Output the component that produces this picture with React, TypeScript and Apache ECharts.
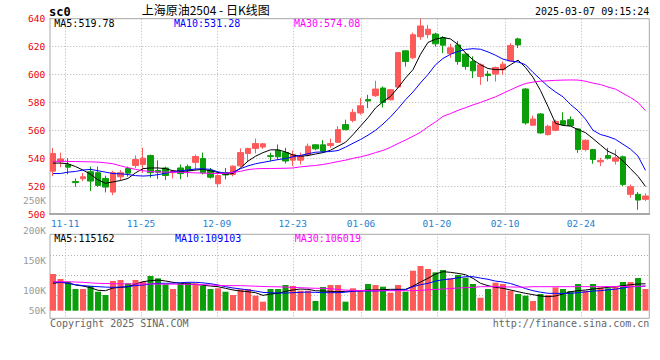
import React, { useEffect, useRef } from "react";
import * as echarts from "echarts";

// ---------- data ----------
const dates = [
  "11-07","11-08","11-11","11-12","11-13","11-14","11-15","11-18","11-19","11-20","11-21","11-22","11-25","11-26","11-27","11-28","11-29",
  "12-02","12-03","12-04","12-05","12-06","12-09","12-10","12-11","12-12","12-13","12-16","12-17","12-18","12-19","12-20","12-23","12-24","12-25","12-26","12-27","12-30","12-31",
  "01-02","01-03","01-06","01-07","01-08","01-09","01-10","01-13","01-14","01-15","01-16","01-17","01-20","01-21","01-22","01-23","01-24","01-27",
  "02-05","02-06","02-07","02-10","02-11","02-12","02-13","02-14","02-17","02-18","02-19","02-20","02-21","02-24","02-25","02-26","02-27","02-28",
  "03-03","03-04","03-05","03-06","03-07"
];
const dateTicks = ["11-11","11-25","12-09","12-23","01-06","01-20","02-10","02-24"];

const opens = [530.7,537.5,535.3,523.3,525.3,530.3,529.6,525.5,515.7,526.7,532.6,534.8,535.5,541.9,531.2,533,529.6,533,534,537,539.8,531.2,521.7,529.6,528.4,534.5,543.4,547,548,541.8,545.7,544,538.6,538.6,542.6,549.6,549.6,549.1,551.4,564.1,567.1,572.4,582,584.8,590.3,581.9,591,617,612,627,628.6,629,626.4,615.1,621.2,614.6,609.3,598.6,600.3,600.3,603.4,609.8,625.5,589.6,563.6,571.7,556.9,560,566.9,567.6,561,546.2,546.2,537.4,541.9,537.9,541,514.1,514.1,510.5];
const closes = [543.4,539.5,533.6,522.5,526.7,523.6,520.5,519.3,529.6,529.6,529.3,539.1,540,529.6,530,527.6,530.8,529,531.2,541.2,529.6,526.4,527.6,528,534.3,544,547,550.5,550.3,541.3,541,538,542.6,541.9,548.6,546.7,545,550.5,560.5,560.5,572.9,577.6,581,589.6,580,589.1,615.7,609.3,628.5,634.8,632.5,622,621,619.1,609.3,605.7,602.6,606.9,599.3,605,607.4,620.7,621.2,565.3,568.1,558.1,562.9,566.4,564.1,563.4,546.2,552.9,539.1,538.4,540,540.3,521.2,519.6,510,512.9];
const lows = [527.1,533.5,528.4,519.5,523.5,516.5,519.5,515.5,513.5,524,526.7,533,529.5,526,525,524.3,525.5,525,526.5,531.2,528.4,525.3,519,524.8,527,533.5,537.4,543.5,546.7,537.9,539,536.2,534.3,535.5,541.4,545.7,544.3,547.4,551,560,565.7,571.2,576,584,576.4,581.4,590.3,605.7,611,624.8,626,620,615.3,612,607,603.4,597.4,592.6,595,595,599.8,609.3,619,564,563.4,557.6,556.2,559.3,563.4,563,543.9,545,536,534.3,539.1,535.5,520,511.7,503,509.3];
const highs = [547.4,544,540,525.5,529.5,534,534,527.5,531,531.5,534,542,547.5,542.6,538.5,534,531.5,535.5,535.5,542.6,544,533,528.4,533,534.8,547,547.5,554,551,543.9,549.8,547.4,545.5,544,550.5,549.8,553,554,563,567.6,575.3,583.1,585.5,595.5,591.4,589.6,615.9,617.3,630,640,635.5,630,627.5,622,624,615.7,613,608,602.6,605.7,609.3,622.4,626.4,590.3,570.5,572.4,564,567.6,573,570,561.7,553.4,546.7,540.3,547.4,546.2,541.9,521.2,515.7,514.8];

const priceMA5 = [536.5,536.5,536,534,531.5,528.5,524.5,522,523,524,525.5,529.5,532.5,533,533,532.5,531,530.5,530.8,531.5,532,531,529.8,528.5,529,533,537.9,541.4,544,546,546,544.5,542.3,541.4,541.9,543,544,545.7,548.6,551.4,556.9,563,569,576,580.5,584.3,590.5,597.5,603.5,614.5,623,625.3,626.5,625.5,621.5,615.5,610.5,607,604.3,603.5,603.5,607,610.3,605,598,588.5,577,565,563.5,563,560.5,558.3,554,549.5,545,542.5,538,532.5,527,519.78];
const priceMA10 = [529,529,530,530.5,531.5,532,531,530,529,528.8,528.3,527.5,527.2,527.5,528.2,529.2,530.3,531,531.5,532.3,532.4,532,530.2,529.3,530,532.5,534.5,536,537,538,539,539.8,541,542,543.2,544.3,544.5,544.8,545.5,547.9,550.7,553.4,556.5,560,564.5,569.6,575.5,581.9,587.5,594,600,607,611.5,614.5,616.5,618,618.5,618.1,616.2,613.8,611,609.6,609,607,601.5,596.5,591.5,587.5,584,578.5,574,568,560,557,555.5,553.5,550,546.5,541.5,531.28];
const priceMA30 = [537.8,537.8,537.7,537.6,537.5,537.4,537.2,536.7,536,534.5,533.2,532,531,530.4,530.2,530,530,529.9,529.7,529.5,529.3,529.1,529,529.2,529.8,530.6,531.8,532.4,532.6,532.6,532.7,532.8,533,533.8,534.3,534.8,535.5,536.5,537.6,538.6,539.9,541,542.3,544,545.6,547.8,550.5,553,555.7,558.6,562.5,566,570,572,574.3,576.2,578.2,580,582,584,586.5,589,591.5,593.5,594.6,595.2,595.5,595.8,596,596.1,596,595.2,593.8,592.8,591,589.5,586.5,583.5,580,574.08];

// volume, in thousands of lots
const volumes = [127.8,119.5,115,102.8,102.8,107.8,98.3,92.8,116.2,117.8,112.3,117.8,115,124.5,120.6,110.6,102.8,112.3,113.4,112.3,107.8,102.8,104,98.3,92.8,102.3,102.8,91.7,81.7,102.8,102.8,109.5,107.8,100,100,82.8,106.2,109.5,109.5,81.7,104,101.2,111.2,109.5,106.7,96.7,109.5,98.3,133.3,141.2,136.2,130.6,134.5,120.6,126.2,121.7,111.2,88.3,102.8,113.4,111.2,100,94.5,91.7,82.8,94.5,92.8,105.6,102.8,99.5,111.2,100,111.2,105.6,104,106.7,114.5,114.5,121.2,102.8];
const volMA5 = [112.3,114,112.8,109.5,107.8,105,100.7,100,104.5,105.6,106.7,111,115,116.7,117.8,116.2,114,112.3,111.2,110.6,109,107.8,106.7,104,101.2,99.5,98.3,96.7,92.2,94.5,95.6,98.9,101.2,102.8,102.3,100,99.5,98.9,98.3,98.9,100,100,101.2,101.2,101.7,102.3,102.3,102.3,107.8,114.5,120.6,127.8,131.7,130.6,128.9,126.7,120.6,112.3,108.4,105.6,104,101.2,98.3,95.6,93.4,91.2,90,91.2,94.5,98.3,100,101.2,102.8,104,105.6,106.7,108.4,110,111.2,111.5];
const volMA10 = [114.5,114,112.5,110,108.5,107.5,106.7,106,105.6,106,106.7,108.5,109.5,111,112.3,112.3,112.5,113.4,114,114,113,111.7,109.5,106.7,104.5,103,101.2,99.5,97.2,96.7,96.1,96.1,96.7,97.2,97.8,97.2,96.7,96.7,96.7,97.5,99,99.5,99.5,99.5,100,100.5,101,101.5,106.7,110,112.3,116,118.3,119.5,121.5,123.4,123.4,121,119,116,114.5,112,108,103.5,100,97.5,95.6,95.6,95.6,95.6,96.7,98,99.5,100,101.5,102.5,104.5,106.7,107,107.8];
const volMA30 = [115,115,114.8,114.5,114,113,112.3,112,111.7,111.5,111.2,111.2,111.2,111.2,111,111,111,110.8,110.8,110.5,110,109.5,108.9,108.5,108.4,108.4,108,107.5,107,106.7,106.5,106,105.5,105,104.5,104,104,103.5,102,101,100.5,100.3,100,100,100,100,100,100,100,100.5,101.5,102,102.8,103.5,104.5,105,105.5,106.7,106.7,106.7,106.5,106.2,106,106,106.7,106.7,106.7,106.7,106.7,106.7,106.7,106.7,106.7,106.8,106.8,107,107,107.2,107.3,107.5];

const volTickLabels = ["250K", "200K", "150K", "100K", "50K"];
const priceMaLabels = ["MA5:519.78", "MA10:531.28", "MA30:574.08"];
const volMaLabels = ["MA5:115162", "MA10:109103", "MA30:106019"];
const titleCode = "sc0";
const titleText = "上海原油2504 - 日K线图";
const timeStamp = "2025-03-07 09:15:24";
const copyright = "Copyright 2025 SINA.COM";
const siteUrl = "http://finance.sina.com.cn";

// ---------- styles ----------
const RED = "#ff5a5a";
const GREEN = "#0a9f0a";
const MA_COLORS = ["#000000", "#0000ff", "#ff00ff"];
const GRID_LINE = { color: "#b4b4b4", width: 1, type: [1, 2] as any };
const MONO = '"DejaVu Sans Mono", "Liberation Mono", monospace';
const BORDER = "#a8a8a8";

const volRowIdx = Array.from({ length: 85 }, (_, k) => String(k));
const volRowLines = new Set([21, 41, 61]);

function buildOption() {
  const candleData = dates.map((_, i) => [opens[i], closes[i], lows[i], highs[i]]);
  const volData = volumes.map((v, i) => ({
    value: v,
    itemStyle: { color: closes[i] > opens[i] ? RED : GREEN },
  }));
  const line = (name: string, data: number[], color: string, ax: number) => ({
    type: "line",
    name,
    data,
    xAxisIndex: ax,
    yAxisIndex: ax,
    symbol: "none",
    showSymbol: false,
    silent: true,
    z: 5,
    lineStyle: { color, width: 1 },
    itemStyle: { color },
  });
  const txt = (text: string, x: number, y: number, fill: string, font: string, align = "left") => ({
    type: "text",
    x,
    y,
    silent: true,
    z: 100,
    style: {
      text,
      fill,
      font,
      align,
      textAlign: align,
      verticalAlign: "middle",
      textVerticalAlign: "middle",
    },
  });
  const tickInterval = (_: number, v: string) => dateTicks.includes(v);
  const volLabelY = [200, 230.7, 260.7, 290.3, 310.3];

  return {
    animation: false,
    backgroundColor: "#ffffff",
    grid: [
      { left: 49.25, top: 18.7, width: 600, height: 195.3 },
      { left: 50, top: 18.7, width: 599.3, height: 195.3, show: true, borderColor: BORDER, borderWidth: 1 },
      { left: 49.25, top: 230.7, width: 600, height: 80 },
      { left: 50, top: 234.3, width: 599.3, height: 84, show: true, borderColor: BORDER, borderWidth: 1 },
    ],
    xAxis: [
      { type: "category", gridIndex: 0, data: dates, boundaryGap: true, show: false },
      {
        type: "category",
        gridIndex: 1,
        data: dates,
        boundaryGap: false,
        axisLine: { show: true, lineStyle: { color: BORDER, width: 2 } },
        axisTick: { show: false },
        axisLabel: {
          interval: tickInterval,
          color: "#1e82d2",
          fontSize: 9.5,
          fontFamily: MONO,
          margin: 4,
        },
        splitLine: { show: true, interval: tickInterval, lineStyle: GRID_LINE },
      },
      { type: "category", gridIndex: 2, data: dates, boundaryGap: true, show: false },
      {
        type: "category",
        gridIndex: 3,
        data: dates,
        boundaryGap: false,
        axisLine: { show: false },
        axisTick: { show: false },
        axisLabel: { show: false },
        splitLine: { show: true, interval: tickInterval, lineStyle: GRID_LINE },
      },
    ],
    yAxis: [
      {
        type: "value",
        gridIndex: 0,
        min: 500,
        max: 640,
        interval: 20,
        axisLine: { show: false },
        axisTick: { show: false },
        axisLabel: {
          color: "#ee0000",
          fontSize: 9.5,
          fontFamily: MONO,
          margin: 4,
          verticalAlign: "middle",
          padding: [0, 0, 5, 0],
        },
        splitLine: { show: true, lineStyle: GRID_LINE },
      },
      { type: "value", gridIndex: 1, min: 0, max: 1, show: false },
      { type: "value", gridIndex: 2, min: 200 - 80 / 0.6, max: 200, show: false },
      {
        type: "category",
        gridIndex: 3,
        data: volRowIdx,
        boundaryGap: false,
        inverse: true,
        axisLine: { show: false },
        axisTick: { show: false },
        axisLabel: { show: false },
        splitLine: {
          show: true,
          interval: (idx: number) => volRowLines.has(idx),
          lineStyle: GRID_LINE,
        },
      },
    ],
    series: [
      {
        type: "candlestick",
        name: "K",
        xAxisIndex: 0,
        yAxisIndex: 0,
        data: candleData,
        barWidth: 6,
        clip: true,
        silent: true,
        itemStyle: {
          color: RED,
          color0: GREEN,
          borderColor: RED,
          borderColor0: GREEN,
          borderWidth: 1,
        },
      },
      line("MA5", priceMA5, MA_COLORS[0], 0),
      line("MA10", priceMA10, MA_COLORS[1], 0),
      line("MA30", priceMA30, MA_COLORS[2], 0),
      {
        type: "bar",
        name: "VOL",
        xAxisIndex: 2,
        yAxisIndex: 2,
        data: volData,
        barWidth: 6,
        silent: true,
      },
      line("VMA5", volMA5, MA_COLORS[0], 2),
      line("VMA10", volMA10, MA_COLORS[1], 2),
      line("VMA30", volMA30, MA_COLORS[2], 2),
    ],
    graphic: [
      txt(titleCode, 49, 11.5, "#000", `bold 12px ${MONO}`),
      txt(titleText, 141.7, 9.5, "#000", '12px "Noto Sans CJK SC", sans-serif'),
      txt(timeStamp, 649.3, 11.7, "#000", `10px ${MONO}`, "right"),
      txt(priceMaLabels[0], 54.3, 23.7, MA_COLORS[0], `10px ${MONO}`),
      txt(priceMaLabels[1], 174, 23.7, MA_COLORS[1], `10px ${MONO}`),
      txt(priceMaLabels[2], 294, 23.7, MA_COLORS[2], `10px ${MONO}`),
      txt(volMaLabels[0], 54.3, 238.5, MA_COLORS[0], `10px ${MONO}`),
      txt(volMaLabels[1], 175, 238.5, MA_COLORS[1], `10px ${MONO}`),
      txt(volMaLabels[2], 294.7, 238.5, MA_COLORS[2], `10px ${MONO}`),
      ...volTickLabels.map((t, k) => txt(t, 46, volLabelY[k], "#9a9a9a", `9.5px ${MONO}`, "right")),
      txt(copyright, 50, 323.5, "#666", `10px ${MONO}`),
      txt(siteUrl, 649.3, 323.7, "#666", `10px ${MONO}`, "right"),
    ],
  };
}

export default function App() {
  const ref = useRef<HTMLDivElement>(null);
  useEffect(() => {
    if (!ref.current) return;
    const chart = echarts.init(ref.current, null, { renderer: "svg" });
    chart.setOption(buildOption() as any);
    return () => chart.dispose();
  }, []);
  return (
    <div
      ref={ref}
      style={{ position: "fixed", left: 0, top: 0, width: 660, height: 360, background: "#fff" }}
    />
  );
}
